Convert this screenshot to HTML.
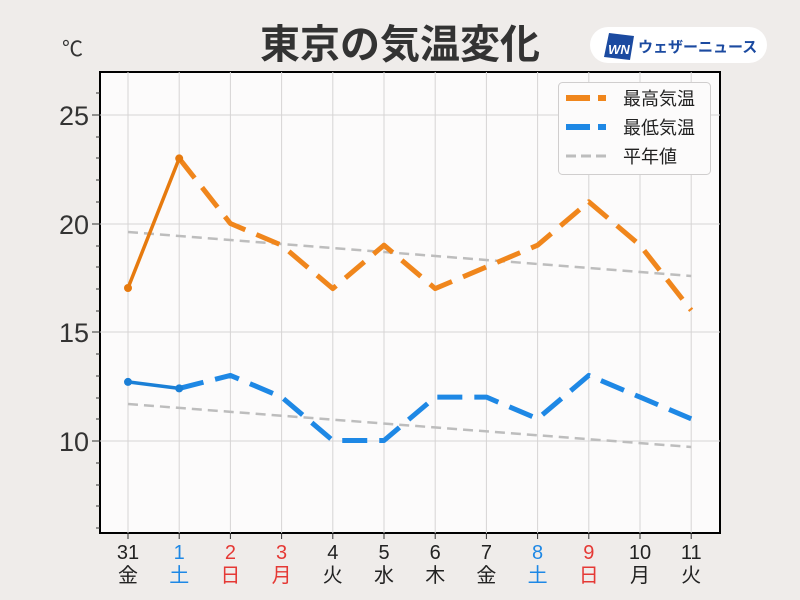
<!DOCTYPE html><html><head><meta charset="utf-8"><style>
body{margin:0;background:#efecea;}
svg{display:block;font-family:"Liberation Sans","Noto Sans CJK JP",sans-serif;}
</style></head><body>
<svg width="800" height="600" viewBox="0 0 800 600">
<rect width="800" height="600" fill="#efecea"/>
<text x="400" y="58" text-anchor="middle" font-size="40" font-weight="bold" fill="#333">東京の気温変化</text>
<text x="62" y="56" font-size="21" fill="#333">℃</text>
<rect x="590" y="27" width="177" height="36" rx="18" fill="#fff"/>
<polygon points="609,33 634,36 630,60 604,57" fill="#1b4aa0"/>
<text x="619" y="54" text-anchor="middle" font-size="13" font-weight="bold" font-style="italic" fill="#fff">WN</text>
<text x="638" y="52" font-size="15" font-weight="bold" fill="#1b4aa0">ウェザーニュース</text>
<rect x="100" y="72" width="620" height="461" fill="#fcfbfb" stroke="#000" stroke-width="2"/>
<g stroke="#d6d4d4" stroke-width="1">
<line x1="128" y1="72" x2="128" y2="533"/><line x1="179.2" y1="72" x2="179.2" y2="533"/><line x1="230.4" y1="72" x2="230.4" y2="533"/><line x1="281.6" y1="72" x2="281.6" y2="533"/><line x1="332.8" y1="72" x2="332.8" y2="533"/><line x1="384" y1="72" x2="384" y2="533"/><line x1="435.2" y1="72" x2="435.2" y2="533"/><line x1="486.4" y1="72" x2="486.4" y2="533"/><line x1="537.6" y1="72" x2="537.6" y2="533"/><line x1="588.8" y1="72" x2="588.8" y2="533"/><line x1="640" y1="72" x2="640" y2="533"/><line x1="691.2" y1="72" x2="691.2" y2="533"/>
<line x1="100" y1="115" x2="720" y2="115"/><line x1="100" y1="224" x2="720" y2="224"/><line x1="100" y1="332" x2="720" y2="332"/><line x1="100" y1="441" x2="720" y2="441"/>
</g>
<g stroke="#333" stroke-width="1">
<line x1="92" y1="115" x2="100" y2="115"/><line x1="92" y1="224" x2="100" y2="224"/><line x1="92" y1="332" x2="100" y2="332"/><line x1="92" y1="441" x2="100" y2="441"/>
<line x1="96" y1="93" x2="100" y2="93"/><line x1="96" y1="137" x2="100" y2="137"/><line x1="96" y1="158" x2="100" y2="158"/><line x1="96" y1="180" x2="100" y2="180"/><line x1="96" y1="202" x2="100" y2="202"/><line x1="96" y1="246" x2="100" y2="246"/><line x1="96" y1="267" x2="100" y2="267"/><line x1="96" y1="289" x2="100" y2="289"/><line x1="96" y1="311" x2="100" y2="311"/><line x1="96" y1="354" x2="100" y2="354"/><line x1="96" y1="376" x2="100" y2="376"/><line x1="96" y1="398" x2="100" y2="398"/><line x1="96" y1="419" x2="100" y2="419"/><line x1="96" y1="463" x2="100" y2="463"/><line x1="96" y1="485" x2="100" y2="485"/><line x1="96" y1="506" x2="100" y2="506"/><line x1="96" y1="528" x2="100" y2="528"/>
</g>
<g font-size="27" fill="#333" text-anchor="end"><text x="89" y="125">25</text><text x="89" y="234">20</text><text x="89" y="342">15</text><text x="89" y="451">10</text></g>
<g stroke="#333"><line x1="128" y1="533" x2="128" y2="539"/><line x1="179.2" y1="533" x2="179.2" y2="539"/><line x1="230.4" y1="533" x2="230.4" y2="539"/><line x1="281.6" y1="533" x2="281.6" y2="539"/><line x1="332.8" y1="533" x2="332.8" y2="539"/><line x1="384" y1="533" x2="384" y2="539"/><line x1="435.2" y1="533" x2="435.2" y2="539"/><line x1="486.4" y1="533" x2="486.4" y2="539"/><line x1="537.6" y1="533" x2="537.6" y2="539"/><line x1="588.8" y1="533" x2="588.8" y2="539"/><line x1="640" y1="533" x2="640" y2="539"/><line x1="691.2" y1="533" x2="691.2" y2="539"/></g>
<g font-size="20" text-anchor="middle" fill="#222">
<text x="128" y="559">31</text><text x="128" y="582">金</text>
<text x="179.2" y="559" fill="#1e88e5">1</text><text x="179.2" y="582" fill="#1e88e5">土</text>
<text x="230.4" y="559" fill="#e53935">2</text><text x="230.4" y="582" fill="#e53935">日</text>
<text x="281.6" y="559" fill="#e53935">3</text><text x="281.6" y="582" fill="#e53935">月</text>
<text x="332.8" y="559">4</text><text x="332.8" y="582">火</text>
<text x="384" y="559">5</text><text x="384" y="582">水</text>
<text x="435.2" y="559">6</text><text x="435.2" y="582">木</text>
<text x="486.4" y="559">7</text><text x="486.4" y="582">金</text>
<text x="537.6" y="559" fill="#1e88e5">8</text><text x="537.6" y="582" fill="#1e88e5">土</text>
<text x="588.8" y="559" fill="#e53935">9</text><text x="588.8" y="582" fill="#e53935">日</text>
<text x="640" y="559">10</text><text x="640" y="582">月</text>
<text x="691.2" y="559">11</text><text x="691.2" y="582">火</text>
</g>
<g fill="none" stroke="#bdbdbd" stroke-width="2.5" stroke-dasharray="10,6">
<line x1="128" y1="232" x2="691.2" y2="276"/>
<line x1="128" y1="404" x2="691.2" y2="447"/>
</g>
<g fill="none" stroke-width="5" stroke-linejoin="round">
<polyline stroke="#f0861c" stroke-dasharray="25,12" points="179.2,158.4 230.4,223.5 281.6,245.2 332.8,288.6 384,245.2 435.2,288.6 486.4,266.9 537.6,245.2 588.8,201.8 640,245.2 691.2,310.3"/>
<polyline stroke="#1e88e5" stroke-dasharray="25,12" points="179.2,388.4 230.4,375.4 281.6,397.1 332.8,440.5 384,440.5 435.2,397.1 486.4,397.1 537.6,418.8 588.8,375.4 640,397.1 691.2,418.8"/>
</g>
<g stroke-width="3.5" fill="none">
<line x1="128" y1="288" x2="179.2" y2="158.4" stroke="#e67a0e"/>
<line x1="128" y1="381.9" x2="179.2" y2="388.4" stroke="#1a7fd6"/>
</g>
<circle cx="128" cy="288" r="4" fill="#e67a0e"/><circle cx="179.2" cy="158.4" r="4" fill="#e67a0e"/>
<circle cx="128" cy="381.9" r="4" fill="#1a7fd6"/><circle cx="179.2" cy="388.4" r="4" fill="#1a7fd6"/>
<rect x="558.5" y="82.5" width="152" height="92" rx="4" fill="#fcfbfb" stroke="#d0cece"/>
<line x1="566" y1="98" x2="606" y2="98" stroke="#f0861c" stroke-width="6" stroke-dasharray="24,8"/>
<line x1="566" y1="127" x2="606" y2="127" stroke="#1e88e5" stroke-width="6" stroke-dasharray="24,8"/>
<line x1="566" y1="156" x2="606" y2="156" stroke="#bdbdbd" stroke-width="3" stroke-dasharray="10,5"/>
<g font-size="18" fill="#222"><text x="623" y="105">最高気温</text><text x="623" y="134">最低気温</text><text x="623" y="163">平年値</text></g>
</svg>
</body></html>
